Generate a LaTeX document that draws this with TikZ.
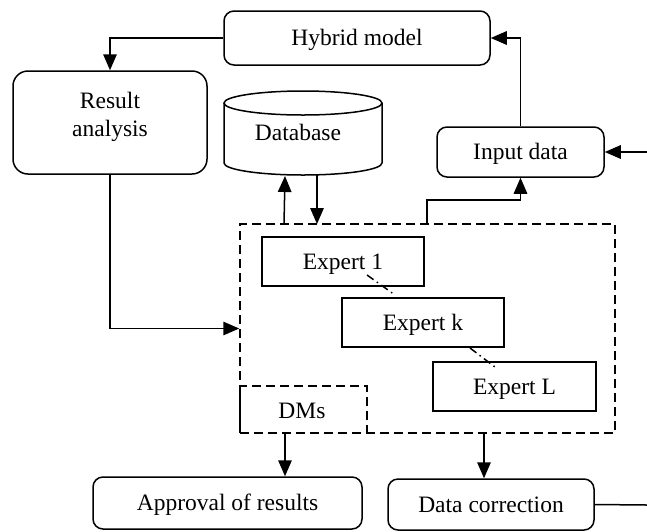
\documentclass[tikz,border=0pt]{standalone}
\usepackage{fontspec}
\setmainfont{Liberation Serif}
\usetikzlibrary{arrows.meta}
\begin{document}
\begin{tikzpicture}[x=1pt,y=-1pt,
  line width=1.5pt,
  font=\fontsize{23.5}{28}\selectfont,
  arr/.style={-{Triangle[length=16pt,width=13.5pt]}},
  capc/.style={text height=15pt, text depth=0pt},
  rbox/.style={draw, rounded corners=10pt, inner sep=0pt, capc},
  sbox/.style={draw, inner sep=0pt, capc},
  dbox/.style={draw, dash pattern=on 9pt off 5pt, inner sep=0pt},
  dd/.style={line width=1.5pt, dash pattern=on 8pt off 4pt on 1.5pt off 4pt},
  txt/.style={inner sep=0pt, align=center}]
\useasboundingbox (0,0) rectangle (647,531);

% boxes
\node[rbox, minimum width=266pt, minimum height=54pt] (hybrid) at (357,38) {Hybrid model};
\node[rbox, rounded corners=15pt, minimum width=194pt, minimum height=103pt] (result) at (110,122.5) {};
\node[txt] (resultt) at (110,117) {Result\\analysis};
\node[rbox, minimum width=167pt, minimum height=50pt] (input) at (520.5,152) {Input data};

% database cylinder
\draw (224,103) -- (224,163) arc[start angle=180, end angle=360, x radius=79pt, y radius=12pt] -- (382,103);
\draw (303,103) ellipse [x radius=79pt, y radius=12pt];
\node[txt, capc] (db) at (298,133) {Database};

% expert container
\node[dbox, minimum width=375pt, minimum height=209pt] (cont) at (427.5,328.5) {};
\node[dbox, minimum width=127pt, minimum height=47pt] (dms) at (303.5,409.5) {};
\node[txt, capc] (dmst) at (302,411) {DMs};
\node[sbox, minimum width=162pt, minimum height=49pt] (e1) at (343,261.5) {Expert 1};
\node[sbox, minimum width=162pt, minimum height=49pt] (ek) at (423,322.5) {Expert k};
\node[sbox, minimum width=163pt, minimum height=49pt] (eL) at (514.5,386.5) {Expert L};

\node[rbox, minimum width=269pt, minimum height=52pt] (approval) at (227.5,503) {Approval of results};
\node[rbox, minimum width=206pt, minimum height=51pt] (corr) at (491,504.5) {Data correction};

% coordinates
\coordinate (dbb1) at (285,176);
\coordinate (dbb2) at (317,175);
\coordinate (c1) at (284,224);
\coordinate (c2) at (317,224);
\coordinate (c3) at (427,224);
\coordinate (inR) at (647,152);
\coordinate (outR) at (647,505);
\coordinate (d1a) at (367,275);
\coordinate (d1b) at (395,295);
\coordinate (d2a) at (470,348);
\coordinate (d2b) at (495,367);

% connectors
\draw[arr] (hybrid.west) -| (result.north);
\draw[arr] (result.south) |- (cont.west);
\draw[arr] (c1) -- (dbb1);
\draw[arr] (dbb2) -- (c2);
\draw[arr] (c3) -- (427,200) -| (input.south);
\draw[arr] (input.north) |- (hybrid.east);
\draw[arr] (inR) -- (input.east);
\draw[arr] (dms.south -| 285,0) -- (approval.north -| 285,0);
\draw[arr] (cont.south -| 484,0) -- (corr.north -| 484,0);
\draw (corr.east) -- (outR);
\draw[dd] (d1a) -- (d1b);
\draw[dd] (d2a) -- (d2b);
\end{tikzpicture}
\end{document}
